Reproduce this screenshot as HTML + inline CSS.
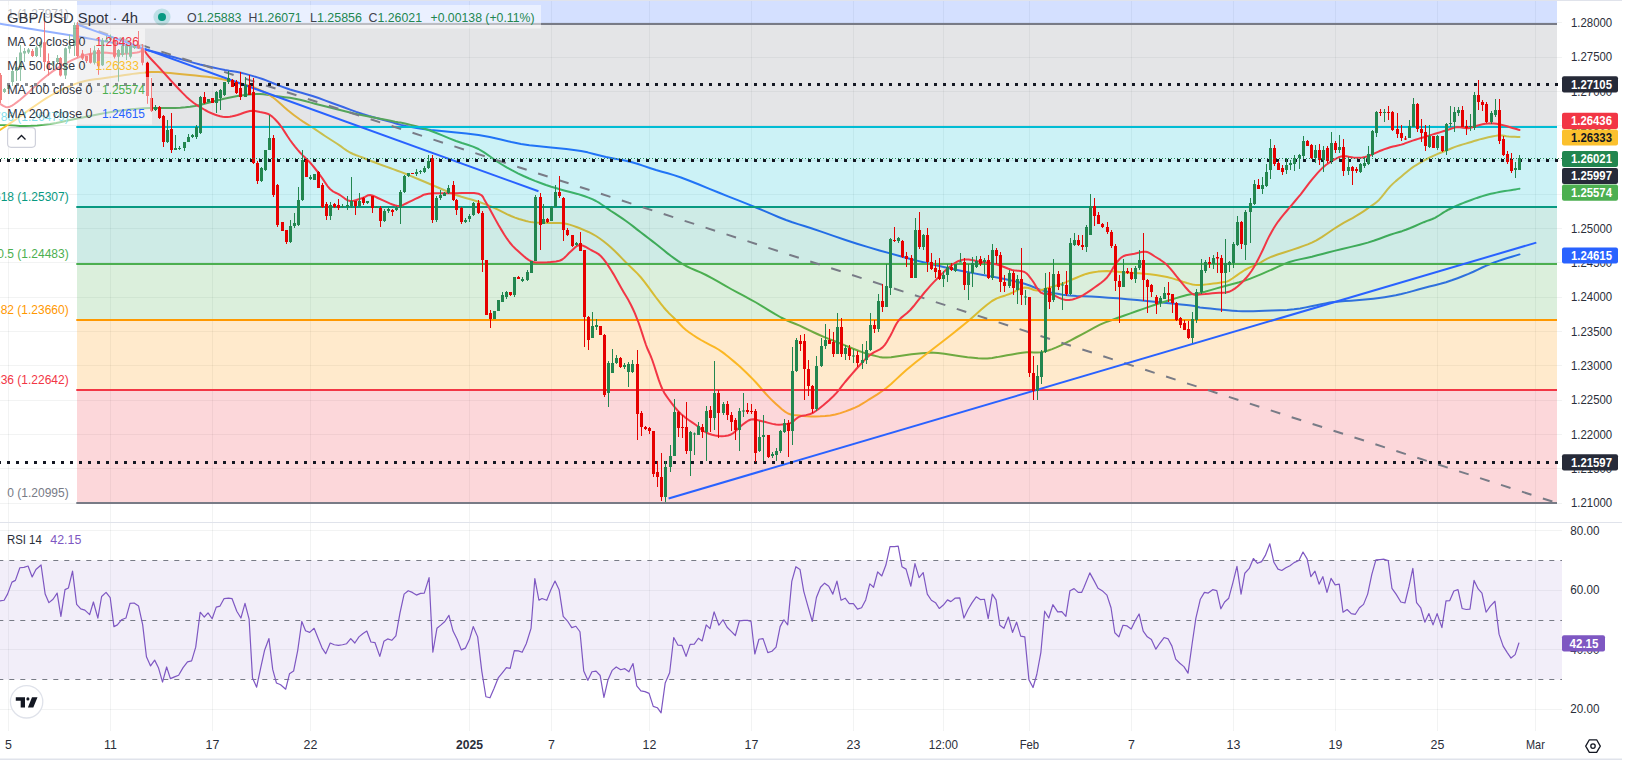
<!DOCTYPE html><html><head><meta charset="utf-8"><title>GBP/USD</title><style>html,body{margin:0;padding:0;background:#fff}body{width:1626px;height:760px;overflow:hidden;position:relative;font-family:"Liberation Sans", sans-serif}</style></head><body><svg width="1626" height="760" viewBox="0 0 1626 760" style="position:absolute;left:0;top:0;display:block" font-family='"Liberation Sans", sans-serif'>
<rect width="1626" height="760" fill="#fff"/>
<path d="M8.5 0V731M110.5 0V731M212.5 0V731M310.5 0V731M469.5 0V731M551.5 0V731M649.5 0V731M751.5 0V731M853.5 0V731M943.5 0V731M1029.5 0V731M1131.5 0V731M1233.5 0V731M1335.5 0V731M1437.5 0V731M1535.5 0V731" stroke="#2a2e39" stroke-opacity="0.06" stroke-width="1" fill="none"/>
<path d="M0 22.5H1562M0 57.5H1562M0 91.5H1562M0 125.5H1562M0 160.5H1562M0 194.5H1562M0 228.5H1562M0 262.5H1562M0 297.5H1562M0 331.5H1562M0 365.5H1562M0 400.5H1562M0 434.5H1562M0 468.5H1562M0 503.5H1562M0 530.5H1562M0 590.5H1562M0 649.5H1562M0 709.5H1562" stroke="#2a2e39" stroke-opacity="0.06" stroke-width="1" fill="none"/>
<rect x="0" y="560.5" width="1562" height="119" fill="#7e57c2" fill-opacity="0.1"/>
<path d="M-1.7 560.5H1562 M-1.7 679.5H1562 M-1.7 620.5H1562" stroke="#787b86" stroke-width="1" stroke-dasharray="5 6" fill="none"/>
<g clip-path="url(#cpm)">
<defs><clipPath id="cpm"><rect x="0" y="0" width="1562" height="522.5"/></clipPath></defs>
<path d="M0 23.7 L4.49 24.48 L10.94 25.6 L18.16 26.85 L25 28 L31.25 29.02 L37.5 30.02 L43.75 31.01 L50 32 L56.25 32.99 L62.5 33.97 L68.75 34.96 L75 36 L81.25 37.09 L87.5 38.22 L93.75 39.36 L100 40.5 L106.37 41.62 L112.81 42.75 L119.1 43.88 L125 45 L130.12 46.04 L134.69 47.03 L139.41 48.13 L145 49.5 L151.91 51.28 L159.69 53.34 L167.62 55.49 L175 57.5 L181.6 59.36 L187.81 61.16 L193.87 62.88 L200 64.5 L206.48 66.05 L213.12 67.53 L219.45 68.87 L225 70 L229.28 70.74 L232.66 71.19 L235.96 71.66 L240 72.5 L245.33 73.88 L251.41 75.59 L257.4 77.39 L262.5 79 L266.27 80.34 L269.22 81.56 L271.93 82.75 L275 84 L278.4 85.32 L281.88 86.66 L285.66 88.04 L290 89.5 L295.04 91 L300.62 92.53 L306.52 94.18 L312.5 96 L318.57 98.07 L324.84 100.34 L331.19 102.69 L337.5 105 L343.75 107.3 L350 109.62 L356.25 111.89 L362.5 114 L368.9 115.94 L375.41 117.75 L381.71 119.44 L387.5 121 L392.43 122.41 L396.75 123.69 L401.07 124.87 L406 126 L411.27 127.05 L416.69 128 L423.02 128.95 L431 130 L441.41 131.09 L453.66 132.19 L466.45 133.45 L478.5 135 L489.77 137.1 L500.84 139.59 L511.37 142.04 L521 144 L529.38 145.26 L536.78 146.09 L543.79 146.75 L551 147.5 L558.62 148.32 L566.31 149.09 L573.85 149.95 L581 151 L587.6 152.35 L593.81 153.91 L599.87 155.51 L606 157 L612.25 158.25 L618.5 159.38 L624.75 160.56 L631 162 L637.25 163.8 L643.5 165.84 L649.75 167.96 L656 170 L661.96 171.73 L667.72 173.31 L673.87 175.11 L681 177.5 L689.5 180.72 L698.97 184.53 L708.83 188.57 L718.5 192.5 L728.05 196.31 L737.72 200.16 L747.15 203.93 L756 207.5 L764.12 210.89 L771.72 214.16 L778.96 217.21 L786 220 L792.34 222.25 L798.06 224.08 L804.26 225.99 L812 228.5 L821.97 231.91 L833.47 235.89 L845.48 239.99 L857 243.75 L868.21 247.16 L879.5 250.42 L890.16 253.41 L899.5 256 L906.69 257.98 L912.31 259.48 L917.78 260.87 L924.5 262.5 L933 264.52 L942.47 266.72 L952.33 268.93 L962 271 L971.67 272.88 L981.53 274.67 L991 276.37 L999.5 278 L1006.75 279.49 L1013.09 280.86 L1018.89 282.24 L1024.5 283.75 L1029.73 285.52 L1034.5 287.45 L1039.27 289.35 L1044.5 291 L1050.28 292.39 L1056.38 293.61 L1062.78 294.65 L1069.5 295.5 L1076.47 296.05 L1083.72 296.34 L1091.36 296.59 L1099.5 297 L1108.35 297.63 L1117.78 298.36 L1127.45 299.16 L1137 300 L1146.79 300.92 L1156.84 301.92 L1166.36 302.9 L1174.5 303.75 L1181.07 304.44 L1186.5 305.02 L1190.93 305.53 L1194.5 306 L1196.5 306.41 L1197.1 306.75 L1197.78 307.09 L1200 307.5 L1204.47 308.01 L1210.29 308.59 L1216.57 309.18 L1222.4 309.7 L1227.53 310.19 L1232.45 310.67 L1237.37 311.06 L1242.5 311.3 L1247.78 311.35 L1253.14 311.24 L1258.78 311.04 L1264.9 310.8 L1271.86 310.56 L1279.45 310.27 L1287.04 309.88 L1294 309.3 L1300.18 308.44 L1305.9 307.36 L1311.27 306.23 L1316.4 305.2 L1321.09 304.28 L1325.36 303.39 L1329.62 302.59 L1334.3 301.9 L1339.56 301.4 L1345.17 301.04 L1350.91 300.71 L1356.6 300.3 L1362.19 299.81 L1367.79 299.3 L1373.4 298.71 L1379 298 L1384.6 297.17 L1390.2 296.23 L1395.8 295.18 L1401.4 294 L1407 292.64 L1412.61 291.11 L1418.21 289.53 L1423.8 288 L1429.36 286.59 L1434.89 285.24 L1440.43 283.82 L1446 282.2 L1451.71 280.3 L1457.52 278.21 L1463.19 276.03 L1468.5 273.9 L1473.35 271.77 L1477.88 269.59 L1482.19 267.5 L1486.4 265.6 L1490.42 263.96 L1494.23 262.52 L1498.02 261.16 L1502 259.8 L1506.65 258.3 L1511.72 256.74 L1516.31 255.36 L1519.5 254.4" fill="none" stroke="#2962ff" stroke-width="2" stroke-linejoin="round" stroke-linecap="round" />
<path d="M0 125 L1.11 124.98 L2.66 124.94 L4.75 124.93 L7.5 125 L11 125.25 L15.16 125.62 L19.86 125.94 L25 126 L30.72 125.78 L37.03 125.38 L43.57 124.78 L50 124 L56.25 122.96 L62.5 121.69 L68.75 120.32 L75 119 L81.25 117.73 L87.5 116.44 L93.75 115.18 L100 114 L106.25 112.88 L112.5 111.81 L118.75 110.84 L125 110 L131.25 109.31 L137.5 108.75 L143.75 108.31 L150 108 L156.37 107.91 L162.81 108 L169.1 108.09 L175 108 L180.35 107.71 L185.31 107.31 L190.12 106.76 L195 106 L200.12 104.93 L205.31 103.59 L210.35 102.21 L215 101 L219.1 100 L222.81 99.09 L226.37 98.27 L230 97.5 L233.75 96.77 L237.5 96.09 L241.25 95.5 L245 95 L248.75 94.57 L252.5 94.22 L256.25 94 L260 94 L263.63 94.27 L267.19 94.77 L270.9 95.38 L275 96 L279.65 96.57 L284.69 97.16 L289.88 97.85 L295 98.7 L300 99.79 L305 101.06 L310 102.4 L315 103.7 L320 104.95 L325 106.2 L330 107.45 L335 108.7 L340 109.97 L345 111.26 L350 112.52 L355 113.7 L360 114.77 L365 115.76 L370 116.72 L375 117.7 L380.21 118.75 L385.56 119.83 L390.63 120.84 L395 121.7 L398.11 122.24 L400.34 122.56 L402.65 122.94 L406 123.7 L410.7 124.86 L416.22 126.29 L422.25 127.99 L428.5 130 L435.14 132.49 L442.25 135.39 L449.36 138.35 L456 141 L461.98 143.05 L467.56 144.75 L472.99 146.58 L478.5 149 L484.12 152.33 L489.75 156.25 L495.38 160.3 L501 164 L506.62 167.28 L512.25 170.38 L517.88 173.28 L523.5 176 L529.18 178.53 L534.91 180.88 L540.55 183.03 L546 185 L551.29 186.76 L556.47 188.31 L561.41 189.71 L566 191 L570.1 192.09 L573.81 193 L577.37 193.91 L581 195 L584.75 196.27 L588.5 197.62 L592.25 199.17 L596 201 L599.75 203.22 L603.5 205.75 L607.25 208.41 L611 211 L614.75 213.46 L618.5 215.91 L622.25 218.39 L626 221 L629.75 223.77 L633.5 226.66 L637.25 229.59 L641 232.5 L644.75 235.36 L648.5 238.22 L652.25 241.09 L656 244 L659.75 247.01 L663.5 250.09 L667.25 253.13 L671 256 L674.63 258.66 L678.19 261.19 L681.9 263.62 L686 266 L690.53 268.2 L695.38 270.25 L700.53 272.42 L706 275 L711.9 278.16 L718.19 281.72 L724.63 285.42 L731 289 L737.25 292.38 L743.5 295.69 L749.75 299.03 L756 302.5 L762.4 306.3 L768.89 310.33 L775.19 314.19 L781 317.5 L786.09 320 L790.67 321.96 L795.1 323.73 L799.7 325.7 L804.58 327.98 L809.54 330.36 L814.53 332.74 L819.5 335 L824.43 337.09 L829.35 339.08 L834.27 341.03 L839.2 343 L844.28 345.09 L849.47 347.23 L854.47 349.26 L859 351 L862.87 352.38 L866.27 353.51 L869.49 354.45 L872.8 355.3 L876.11 356.13 L879.33 356.89 L882.74 357.42 L886.6 357.6 L891.11 357.26 L896.08 356.51 L901.24 355.64 L906.3 354.9 L911.41 354.32 L916.63 353.78 L921.62 353.32 L926 353 L929.13 352.77 L931.39 352.62 L933.95 352.66 L938 353 L944.37 353.82 L952.26 355.03 L960.4 356.26 L967.5 357.2 L973.13 357.81 L978.01 358.26 L982.58 358.47 L987.3 358.4 L992.23 357.92 L997.16 357.11 L1002.08 356.17 L1007 355.3 L1012.06 354.47 L1017.21 353.61 L1022.18 352.84 L1026.7 352.3 L1030.54 352.2 L1033.89 352.42 L1037.13 352.57 L1040.6 352.3 L1044.33 351.54 L1048.14 350.47 L1052.14 349.09 L1056.4 347.4 L1060.93 345.34 L1065.69 342.94 L1070.7 340.3 L1076 337.5 L1081.97 334.31 L1088.47 330.77 L1094.74 327.4 L1100 324.7 L1103.54 323.06 L1105.94 322.11 L1108.37 321.29 L1112 320 L1117.34 318.04 L1123.69 315.74 L1130.45 313.32 L1137 311 L1143.25 308.82 L1149.5 306.66 L1155.75 304.54 L1162 302.5 L1168.53 300.43 L1175.25 298.34 L1181.59 296.46 L1187 295 L1190.87 294.21 L1193.66 293.93 L1196.37 293.67 L1200 293 L1204.94 291.72 L1210.61 290.11 L1216.58 288.36 L1222.4 286.7 L1228 285.23 L1233.61 283.81 L1239.21 282.32 L1244.8 280.6 L1250.36 278.59 L1255.89 276.38 L1261.43 274.05 L1267 271.7 L1272.61 269.23 L1278.24 266.62 L1283.88 264.13 L1289.5 262 L1295.11 260.38 L1300.71 259.11 L1306.3 257.96 L1311.9 256.7 L1317.24 255.34 L1322.41 253.99 L1327.92 252.54 L1334.3 250.9 L1342.15 248.99 L1351.05 246.88 L1359.95 244.7 L1367.8 242.6 L1374.34 240.55 L1380.11 238.49 L1385.33 236.54 L1390.2 234.8 L1394.54 233.41 L1398.33 232.29 L1401.98 231.17 L1405.9 229.8 L1410.38 228.01 L1415.13 225.96 L1419.74 223.94 L1423.8 222.2 L1427.08 220.93 L1429.83 219.95 L1432.37 218.99 L1435 217.8 L1437.76 216.24 L1440.49 214.47 L1443.23 212.67 L1446 211 L1448.81 209.49 L1451.64 208.05 L1454.47 206.69 L1457.3 205.4 L1460.11 204.21 L1462.91 203.1 L1465.7 202.04 L1468.5 201 L1471.3 199.95 L1474.1 198.93 L1476.9 197.93 L1479.7 197 L1482.5 196.12 L1485.31 195.29 L1488.11 194.51 L1490.9 193.8 L1493.68 193.17 L1496.44 192.61 L1499.21 192.1 L1502 191.6 L1504.93 191.11 L1507.96 190.63 L1510.83 190.19 L1513.3 189.8 L1515.35 189.45 L1517.11 189.14 L1518.51 188.88 L1519.5 188.7" fill="none" stroke="#4caf50" stroke-width="2" stroke-linejoin="round" stroke-linecap="round" />
<path d="M0 130 L2.64 128.26 L6.41 125.78 L10.72 122.91 L15 120 L19.2 117.03 L23.59 113.84 L28.07 110.61 L32.5 107.5 L36.88 104.5 L41.25 101.53 L45.62 98.68 L50 96 L54.38 93.5 L58.75 91.16 L63.12 88.98 L67.5 87 L71.82 85.22 L76.09 83.62 L80.45 82.22 L85 81 L89.82 80.04 L94.84 79.31 L99.94 78.68 L105 78 L110.12 77.23 L115.31 76.44 L120.35 75.68 L125 75 L129.1 74.41 L132.81 73.88 L136.37 73.41 L140 73 L143.75 72.63 L147.5 72.31 L151.25 72.09 L155 72 L158.63 72.09 L162.19 72.31 L165.9 72.63 L170 73 L174.59 73.42 L179.53 73.91 L184.71 74.44 L190 75 L195.57 75.57 L201.41 76.16 L207.17 76.79 L212.5 77.5 L217.17 78.27 L221.41 79.09 L225.57 80 L230 81 L234.94 82.11 L240.16 83.31 L245.29 84.61 L250 86 L254.22 87.52 L258.12 89.16 L261.72 90.84 L265 92.5 L267.79 94.02 L270.16 95.47 L272.44 97.06 L275 99 L277.95 101.47 L281.09 104.31 L284.32 107.25 L287.5 110 L290.62 112.52 L293.75 114.94 L296.88 117.27 L300 119.5 L303.12 121.59 L306.25 123.56 L309.38 125.5 L312.5 127.5 L315.62 129.6 L318.75 131.75 L321.88 133.9 L325 136 L328.12 138.02 L331.25 140 L334.38 141.98 L337.5 144 L340.62 146.17 L343.75 148.44 L346.88 150.61 L350 152.5 L353.12 154 L356.25 155.22 L359.38 156.33 L362.5 157.5 L365.57 158.74 L368.59 159.97 L371.7 161.21 L375 162.5 L378.55 163.83 L382.28 165.19 L386.12 166.58 L390 168 L393.72 169.36 L397.38 170.69 L401.34 172.17 L406 174 L411.62 176.31 L417.94 178.97 L424.54 181.77 L431 184.5 L437.37 187.23 L443.81 190.03 L450.1 192.69 L456 195 L461.41 196.8 L466.47 198.25 L471.29 199.57 L476 201 L480.55 202.54 L484.91 204.09 L489.18 205.72 L493.5 207.5 L497.93 209.57 L502.41 211.84 L506.8 214.07 L511 216 L515.04 217.58 L518.97 218.94 L522.66 220.08 L526 221 L528.68 221.64 L530.84 222.03 L533.09 222.28 L536 222.5 L539.96 222.69 L544.59 222.8 L549.3 222.88 L553.5 223 L556.92 223.07 L559.91 223.09 L562.82 223.26 L566 223.75 L569.57 224.65 L573.34 225.84 L577.19 227.24 L581 228.75 L584.75 230.3 L588.5 231.97 L592.25 233.84 L596 236 L599.75 238.49 L603.5 241.27 L607.25 244.28 L611 247.5 L614.75 251 L618.5 254.78 L622.25 258.67 L626 262.5 L629.75 266.13 L633.5 269.69 L637.25 273.4 L641 277.5 L644.87 282.32 L648.81 287.66 L652.6 292.91 L656 297.5 L658.85 301.21 L661.31 304.38 L663.62 307.23 L666 310 L668.5 312.68 L671 315.16 L673.5 317.56 L676 320 L678.38 322.5 L680.69 325 L683.15 327.5 L686 330 L689.34 332.51 L693.03 335.03 L696.96 337.54 L701 340 L705.32 342.41 L709.91 344.78 L714.42 347.14 L718.5 349.5 L721.98 351.84 L725.06 354.16 L727.99 356.52 L731 359 L734.12 361.61 L737.25 364.31 L740.38 367.11 L743.5 370 L746.68 373.04 L749.91 376.22 L753.05 379.41 L756 382.5 L758.68 385.48 L761.16 388.41 L763.56 391.25 L766 394 L768.45 396.62 L770.88 399.12 L773.36 401.57 L776 404 L778.87 406.59 L781.89 409.25 L784.97 411.66 L788 413.5 L790.85 414.55 L793.61 415.03 L796.49 415.25 L799.7 415.5 L803.27 415.89 L807.09 416.25 L811.17 416.48 L815.5 416.5 L820.17 416.33 L825.16 415.99 L830.26 415.41 L835.3 414.5 L840.37 413.14 L845.52 411.42 L850.49 409.51 L855 407.6 L858.77 405.79 L862.02 403.96 L865.21 401.98 L868.8 399.7 L872.92 397.14 L877.33 394.37 L881.92 391.28 L886.6 387.8 L891.39 383.72 L896.33 379.14 L901.33 374.44 L906.3 370 L911.18 365.95 L916.02 362.09 L920.93 358.25 L926 354.3 L931.3 350.19 L936.77 346.01 L942.31 341.78 L947.8 337.5 L953.21 333.21 L958.61 328.89 L964.02 324.5 L969.5 320 L975.19 315.07 L981.01 309.84 L986.71 304.94 L992 301 L996.79 298.39 L1001.22 296.72 L1005.42 295.43 L1009.5 294 L1013.48 292.12 L1017.31 290.12 L1020.98 288.45 L1024.5 287.5 L1027.8 287.72 L1030.91 288.78 L1033.93 289.95 L1037 290.5 L1040.12 290.19 L1043.25 289.42 L1046.38 288.44 L1049.5 287.5 L1052.57 286.67 L1055.59 285.83 L1058.7 284.88 L1062 283.75 L1065.63 282.32 L1069.5 280.67 L1073.37 279 L1077 277.5 L1080.18 276.19 L1083.09 274.98 L1086.08 273.91 L1089.5 273 L1093.52 272.24 L1097.94 271.62 L1102.51 271.2 L1107 271 L1111.32 271.13 L1115.59 271.55 L1119.95 272.06 L1124.5 272.5 L1129.27 272.78 L1134.19 273.02 L1139.27 273.3 L1144.5 273.75 L1150.01 274.36 L1155.75 275.08 L1161.49 275.95 L1167 277 L1172.41 278.4 L1177.78 280.08 L1182.76 281.72 L1187 283 L1190.13 283.85 L1192.44 284.44 L1194.52 284.8 L1197 285 L1200.05 284.98 L1203.35 284.74 L1206.72 284.38 L1210 284 L1213.28 283.6 L1216.6 283.14 L1219.72 282.65 L1222.4 282.2 L1224.24 282 L1225.49 281.95 L1226.84 281.63 L1229 280.6 L1232.36 278.48 L1236.47 275.59 L1240.8 272.55 L1244.8 270 L1248.32 268.16 L1251.65 266.68 L1254.91 265.31 L1258.2 263.8 L1261.23 262.13 L1264.06 260.43 L1267.3 258.63 L1271.6 256.7 L1277.59 254.55 L1284.77 252.22 L1292.09 249.88 L1298.5 247.7 L1303.5 245.9 L1307.74 244.34 L1311.83 242.61 L1316.4 240.3 L1321.77 237.07 L1327.55 233.22 L1333.33 229.28 L1338.7 225.8 L1343.59 222.94 L1348.21 220.4 L1352.54 218.04 L1356.6 215.7 L1360.37 213.34 L1363.86 211.05 L1367.06 208.86 L1370 206.8 L1372.51 205.09 L1374.64 203.64 L1376.7 202.04 L1379 199.9 L1381.65 196.91 L1384.46 193.34 L1387.35 189.68 L1390.2 186.4 L1393 183.63 L1395.8 181.12 L1398.6 178.75 L1401.4 176.4 L1404.2 174.03 L1407 171.69 L1409.8 169.46 L1412.6 167.4 L1415.4 165.54 L1418.2 163.84 L1421 162.24 L1423.8 160.7 L1426.6 159.2 L1429.41 157.76 L1432.21 156.4 L1435 155.1 L1437.76 153.9 L1440.49 152.78 L1443.23 151.7 L1446 150.6 L1448.81 149.45 L1451.64 148.27 L1454.47 147.14 L1457.3 146.1 L1460.11 145.19 L1462.91 144.38 L1465.7 143.6 L1468.5 142.8 L1471.3 141.94 L1474.1 141.06 L1476.9 140.2 L1479.7 139.4 L1482.55 138.67 L1485.44 137.98 L1488.26 137.35 L1490.9 136.8 L1493.28 136.31 L1495.49 135.87 L1497.62 135.55 L1499.8 135.4 L1502 135.51 L1504.19 135.83 L1506.43 136.21 L1508.8 136.5 L1511.61 136.68 L1514.71 136.82 L1517.54 136.92 L1519.5 137" fill="none" stroke="#fbc02d" stroke-width="2" stroke-linejoin="round" stroke-linecap="round" />
<rect x="77" y="390" width="1480" height="113" fill="#f23645" fill-opacity="0.2"/>
<rect x="77" y="320" width="1480" height="70" fill="#ff9800" fill-opacity="0.2"/>
<rect x="77" y="264" width="1480" height="56" fill="#4caf50" fill-opacity="0.2"/>
<rect x="77" y="207" width="1480" height="57" fill="#089981" fill-opacity="0.2"/>
<rect x="77" y="127" width="1480" height="80" fill="#00bcd4" fill-opacity="0.2"/>
<rect x="77" y="24" width="1480" height="103" fill="#787b86" fill-opacity="0.2"/>
<rect x="77" y="-10" width="1480" height="34" fill="#2962ff" fill-opacity="0.2"/>
<path d="M76.3 503H1557" stroke="#787b86" stroke-width="2" fill="none"/>
<path d="M76.3 390H1557" stroke="#f23645" stroke-width="2" fill="none"/>
<path d="M76.3 320H1557" stroke="#ff9800" stroke-width="2" fill="none"/>
<path d="M76.3 264H1557" stroke="#4caf50" stroke-width="2" fill="none"/>
<path d="M76.3 207H1557" stroke="#089981" stroke-width="2" fill="none"/>
<path d="M76.3 127H1557" stroke="#00bcd4" stroke-width="2" fill="none"/>
<path d="M76.3 24H1557" stroke="#787b86" stroke-width="2" fill="none"/>
<path d="M77.6 24.5L1557 503" stroke="#787b86" stroke-width="2" stroke-dasharray="10 12" fill="none"/>
<path d="M77.5 24.6L538.5 191.3" stroke="#2962ff" stroke-width="2" fill="none"/>
<path d="M668.6 498.5L1536.3 242.6" stroke="#2962ff" stroke-width="2" fill="none"/>
<path d="M0 103.8 L1.35 104.63 L3.27 105.88 L5.48 106.95 L7.7 107.3 L9.85 106.73 L12.08 105.56 L14.45 103.96 L17 102.1 L19.77 99.96 L22.72 97.48 L25.81 94.76 L29 91.9 L32.33 88.8 L35.79 85.45 L39.31 82.1 L42.8 79 L46.19 76.22 L49.54 73.63 L52.95 71.17 L56.5 68.8 L60.29 66.46 L64.26 64.19 L68.22 62.07 L72 60.2 L75.45 58.6 L78.7 57.22 L82 56.03 L85.6 55 L89.62 54.09 L93.92 53.33 L98.33 52.78 L102.7 52.5 L107.02 52.66 L111.36 53.19 L115.69 53.74 L120 54 L124.51 53.84 L129.16 53.45 L133.48 52.96 L137 52.5 L139.43 51.91 L141.08 51.18 L142.36 50.69 L143.7 50.8 L144.99 51.62 L146.08 52.96 L147.31 54.72 L149 56.8 L151.26 59.21 L153.89 61.99 L156.84 65.1 L160 68.5 L163.47 72.32 L167.25 76.54 L171.16 80.87 L175 85 L178.75 88.97 L182.5 92.91 L186.25 96.64 L190 100 L193.81 102.96 L197.66 105.59 L201.43 107.93 L205 110 L208.36 111.79 L211.56 113.28 L214.61 114.51 L217.5 115.5 L220.18 116.24 L222.66 116.72 L225.06 116.96 L227.5 117 L229.94 116.79 L232.34 116.34 L234.82 115.72 L237.5 115 L240.51 114.02 L243.75 112.81 L246.99 111.7 L250 111 L252.68 110.85 L255.16 111.06 L257.56 111.49 L260 112 L262.5 112.45 L265 112.94 L267.5 113.71 L270 115 L272.5 116.89 L275 119.25 L277.5 121.98 L280 125 L282.5 128.46 L285 132.34 L287.5 136.31 L290 140 L292.5 143.36 L295 146.56 L297.5 149.61 L300 152.5 L302.5 155.12 L305 157.5 L307.5 159.88 L310 162.5 L312.5 165.41 L315 168.5 L317.5 171.71 L320 175 L322.5 178.58 L325 182.41 L327.5 186.03 L330 189 L332.5 191.06 L335 192.5 L337.5 193.69 L340 195 L342.44 196.71 L344.84 198.56 L347.32 200.13 L350 201 L353.07 200.88 L356.41 200.06 L359.67 198.96 L362.5 198 L364.67 197.09 L366.41 196.06 L368.07 195.26 L370 195 L372.27 195.47 L374.69 196.47 L377.27 197.73 L380 199 L383.07 200.36 L386.41 201.91 L389.67 203.37 L392.5 204.5 L394.76 205.25 L396.66 205.75 L398.35 206 L400 206 L401.45 205.74 L402.69 205.22 L404.08 204.46 L406 203.5 L408.73 202.19 L412 200.58 L415.4 198.92 L418.5 197.5 L420.77 196.33 L422.56 195.28 L424.83 194.41 L428.5 193.75 L434.26 193.37 L441.47 193.23 L449.07 193.23 L456 193.25 L462.33 193.11 L468.5 192.92 L474.05 193.02 L478.5 193.75 L481.31 195.04 L482.88 196.75 L484.12 199.15 L486 202.5 L488.8 207.28 L492.02 213.2 L495.35 219.4 L498.5 225 L501.4 229.87 L504.2 234.45 L506.97 238.68 L509.75 242.5 L512.59 245.84 L515.45 248.75 L518.28 251.35 L521 253.75 L523.59 256.04 L526.08 258.12 L528.53 259.9 L531 261.25 L533.44 262.05 L535.84 262.39 L538.32 262.47 L541 262.5 L544.04 262.49 L547.33 262.34 L550.58 262.09 L553.5 261.75 L555.95 261.43 L558.11 261.09 L560.15 260.52 L562.25 259.5 L564.44 257.81 L566.62 255.62 L568.81 253.31 L571 251.25 L573.13 249.28 L575.22 247.3 L577.39 245.72 L579.75 245 L582.42 245.43 L585.3 246.72 L588.22 248.4 L591 250 L593.59 251.3 L596.08 252.58 L598.53 254.13 L601 256.25 L603.5 259.07 L606 262.42 L608.5 266.12 L611 270 L613.5 274.11 L616 278.52 L618.5 283.04 L621 287.5 L623.56 291.88 L626.16 296.25 L628.68 300.62 L631 305 L633.05 309.26 L634.91 313.44 L636.68 317.77 L638.5 322.5 L640.4 327.95 L642.33 333.91 L644.21 339.79 L646 345 L647.59 349.02 L649.05 352.28 L650.54 355.65 L652.25 360 L654.29 366.03 L656.55 373.12 L658.84 380.16 L661 386 L662.85 390.12 L664.52 393.19 L666.3 395.91 L668.5 399 L671.21 402.7 L674.28 406.62 L677.58 410.48 L681 414 L684.69 417.11 L688.66 419.97 L692.54 422.59 L696 425 L698.79 427.21 L701.16 429.22 L703.44 430.99 L706 432.5 L708.95 433.77 L712.09 434.81 L715.32 435.57 L718.5 436 L721.68 436.14 L724.91 436 L728.05 435.48 L731 434.5 L733.68 432.82 L736.16 430.56 L738.56 428.15 L741 426 L743.5 424.05 L746 422.12 L748.5 420.52 L751 419.5 L753.38 419.27 L755.69 419.62 L758.15 420.3 L761 421 L764.52 421.83 L768.5 422.88 L772.48 423.86 L776 424.5 L778.95 424.68 L781.57 424.57 L783.91 424.3 L786 424 L787.7 423.78 L789.03 423.54 L790.3 423.13 L791.8 422.4 L793.49 421.18 L795.24 419.6 L797.25 417.94 L799.7 416.5 L802.62 415.65 L805.91 415.14 L809.58 414.31 L813.6 412.5 L818.3 409.26 L823.58 405.04 L828.79 400.5 L833.3 396.3 L836.76 392.63 L839.56 389.14 L842.19 385.65 L845.1 382 L848.48 378.02 L852.05 373.84 L855.62 369.74 L859 366 L862.1 362.66 L865.03 359.58 L867.9 356.79 L870.8 354.3 L873.84 352.35 L876.94 350.86 L879.92 349.36 L882.6 347.4 L884.85 344.84 L886.79 341.94 L888.62 338.8 L890.5 335.5 L892.38 331.91 L894.2 328.02 L896.14 324.18 L898.4 320.7 L901.04 317.9 L903.96 315.52 L907.07 313.06 L910.3 310 L913.73 306.02 L917.36 301.44 L921.02 296.77 L924.5 292.5 L927.69 288.8 L930.7 285.39 L933.74 282.1 L937 278.75 L940.63 275.12 L944.5 271.36 L948.37 267.86 L952 265 L955.18 262.86 L958.09 261.23 L961.08 260.12 L964.5 259.5 L968.58 259.56 L973.09 260.25 L977.68 261.19 L982 262 L985.93 262.55 L989.66 263.06 L993.31 263.66 L997 264.5 L1000.81 265.75 L1004.66 267.28 L1008.43 268.8 L1012 270 L1015.42 270.61 L1018.72 270.84 L1021.79 271.16 L1024.5 272 L1026.7 273.47 L1028.48 275.34 L1030.15 277.54 L1032 280 L1034.04 283.05 L1036.14 286.62 L1038.36 290.01 L1040.75 292.5 L1043.33 293.66 L1046.06 293.94 L1048.95 294 L1052 294.5 L1055.26 295.83 L1058.72 297.56 L1062.25 299.14 L1065.75 300 L1069.16 300 L1072.55 299.44 L1075.97 298.41 L1079.5 297 L1083.22 295.09 L1087.08 292.69 L1090.9 290.06 L1094.5 287.5 L1097.89 285.12 L1101.14 282.77 L1104.2 280.28 L1107 277.5 L1109.48 274.18 L1111.69 270.47 L1113.74 266.84 L1115.75 263.75 L1117.62 261.32 L1119.34 259.3 L1121.14 257.63 L1123.25 256.25 L1125.8 255.26 L1128.64 254.66 L1131.6 254.22 L1134.5 253.75 L1137.37 253.06 L1140.28 252.31 L1143.11 251.78 L1145.75 251.75 L1148.03 252.32 L1150.05 253.33 L1152.11 254.67 L1154.5 256.25 L1157.36 257.99 L1160.52 259.97 L1163.79 262.27 L1167 265 L1170.12 268.34 L1173.25 272.19 L1176.38 276.19 L1179.5 280 L1182.68 283.84 L1185.91 287.78 L1189.05 291.27 L1192 293.75 L1194.59 294.85 L1196.92 294.94 L1199.3 294.56 L1202 294.25 L1205.17 294.06 L1208.64 293.73 L1212.22 293.35 L1215.7 293 L1219.1 292.85 L1222.5 292.81 L1225.83 292.56 L1229 291.8 L1231.97 290.44 L1234.78 288.64 L1237.53 286.47 L1240.3 284 L1243.16 281.19 L1246.05 278.02 L1248.86 274.59 L1251.5 271 L1253.88 267.26 L1256.09 263.32 L1258.22 259.2 L1260.4 254.9 L1262.65 250.25 L1264.9 245.31 L1267.15 240.41 L1269.4 235.9 L1271.58 231.92 L1273.71 228.27 L1275.92 224.78 L1278.3 221.3 L1280.94 217.8 L1283.76 214.37 L1286.65 210.98 L1289.5 207.6 L1292.3 204.28 L1295.1 201.01 L1297.9 197.71 L1300.7 194.3 L1303.5 190.69 L1306.31 186.94 L1309.11 183.22 L1311.9 179.7 L1314.68 176.36 L1317.44 173.12 L1320.21 170.1 L1323 167.4 L1325.87 165.03 L1328.79 162.94 L1331.64 161.14 L1334.3 159.6 L1336.59 158.32 L1338.62 157.31 L1340.71 156.6 L1343.2 156.2 L1346.29 156.32 L1349.76 156.89 L1353.3 157.51 L1356.6 157.8 L1359.55 157.7 L1362.34 157.41 L1365.05 156.91 L1367.8 156.2 L1370.6 155.19 L1373.4 153.9 L1376.2 152.54 L1379 151.3 L1381.8 150.21 L1384.6 149.16 L1387.4 148.19 L1390.2 147.3 L1393 146.56 L1395.8 145.95 L1398.6 145.34 L1401.4 144.6 L1404.2 143.68 L1407 142.64 L1409.8 141.59 L1412.6 140.6 L1415.4 139.71 L1418.2 138.86 L1421 138.04 L1423.8 137.2 L1426.6 136.35 L1429.41 135.49 L1432.21 134.64 L1435 133.8 L1437.76 132.97 L1440.49 132.15 L1443.23 131.33 L1446 130.5 L1448.81 129.55 L1451.64 128.52 L1454.47 127.64 L1457.3 127.1 L1460.11 127.16 L1462.91 127.64 L1465.7 128.13 L1468.5 128.2 L1471.3 127.64 L1474.1 126.72 L1476.9 125.71 L1479.7 124.9 L1482.5 124.31 L1485.31 123.79 L1488.11 123.44 L1490.9 123.3 L1493.68 123.44 L1496.44 123.79 L1499.21 124.31 L1502 124.9 L1504.93 125.64 L1507.96 126.54 L1510.83 127.44 L1513.3 128.2 L1515.35 128.8 L1517.11 129.31 L1518.51 129.71 L1519.5 130" fill="none" stroke="#f23645" stroke-width="2" stroke-linejoin="round" stroke-linecap="round" />
<path d="M-2 84.5H1562" stroke="#131722" stroke-width="3" stroke-dasharray="3 6" fill="none"/>
<path d="M-2 160.5H1562" stroke="#131722" stroke-width="3" stroke-dasharray="3 6" fill="none"/>
<path d="M-2 462.5H1562" stroke="#131722" stroke-width="3" stroke-dasharray="3 6" fill="none"/>
<g transform="translate(0.5,0)" stroke-width="1" fill="none"><path stroke="#22864f" d="M4 88 V93M8 85 V89M12 69 V86M16 57 V81M20 45 V81M24 48 V62M28 48 V54M36 45.7 V57M40 41.4 V57M52 61 V66M57 55 V63M65 47.4 V79M69 34.5 V53.4M74 22.5 V56M94 45.7 V64.5M102 38 V66M106 36 V42M110 34.5 V41.4M118 49 V81.6M122 40.5 V56.8M126 44 V60M130 44 V58.5M134 44.8 V49M155 105 V111M167 120 V143M175 135 V150M179 146 V150M184 142 V151M188 134 V142M192 134 V138M196 125 V139M200 96 V134M208 99 V102M216 91 V113M220 89 V110M224 82 V96M228 71 V84M245 77 V97M261 167 V182M265 150 V171M269 115 V150M290 220 V243M294 213 V228M298 187 V226M302 150 V201M310 175 V180M314 174 V180M330 202 V220M342 204 V208M347 196 V210M351 177 V208M359 193 V207M367 201 V204M376 206 V208M384 209 V222M388 208 V213M396 206 V211M400 190 V224M404 175 V193M408 173 V177M416 169 V176M420 170 V174M424 166 V173M428 155 V169M436 196 V222M440 190 V200M444 192 V196M448 185 V194M465 218 V223M469 214 V222M473 202 V216M494 311 V319M498 300 V311M502 292 V302M506 291 V299M514 277 V297M522 277 V282M527 270 V281M531 261 V273M535 195 V261M543 204 V224M551 206 V221M555 185 V207M576 242 V246M592 312 V338M596 319 V330M608 361 V407M612 349 V373M616 355 V364M624 363 V369M628 362 V387M632 360 V373M665 461 V502M670 445 V472M674 399 V456M690 431 V476M694 432.5 V455M698 422 V435M706 406 V461M714 361 V430M723 402 V415M739 408 V451M743 393 V417M759 421 V452M763 415 V461M772 452 V458M776 448 V461M780 430 V453M784 419 V433M792 347 V445M796 338 V372M816 356 V411M821 338 V367M825 324 V349M837 313 V354M845 345 V360M853 349 V363M862 344 V369M866 341 V364M870 313 V351M878 294 V332M886 264 V307M890 238 V295M898 237 V243M915 218 V278M923 234 V250M943 271 V287M947 264 V282M955 264 V272M960 253 V262M968 264 V300M972 257 V287M976 256 V268M984 258 V274M992 244 V280M1009 270 V288M1017 275 V304M1025 290 V305M1037 365 V400M1041 350 V384M1045 273 V353M1053 259 V302M1062 282 V310M1070 238 V295M1074 233 V246M1086 225 V252M1090 194 V235M1123 259 V287M1135 266 V283M1139 250 V270M1160 296 V307M1164 287 V299M1192 312 V343M1196 289 V323M1201 259 V294M1205 260 V273M1213 255 V269M1225 239 V294M1229 261 V272M1233 242 V268M1237 216 V246M1245 210 V260M1250 198 V243M1254 180 V205M1262 177 V194M1266 164 V187M1270 139 V179M1286 158 V174M1290 160 V170M1294 155 V171M1299 154 V169M1303 136 V158M1315 145 V163M1323 146 V172M1331 132 V164M1339 135 V153M1348 157 V175M1360 163 V173M1364 157 V168M1368 146 V165M1372 130 V157M1376 111 V137M1384 109 V122M1409 120 V138M1413 98 V127M1429 125 V148M1437 135 V150M1446 123 V155M1450 106 V127M1454 107 V132M1458 107 V116M1470 114 V131M1474 92 V130M1491 111 V124M1495 99 V117M1515 162 V178M1519 155 V170"/><path stroke="#e60000" d="M0 73 V103M32 49 V57M44 18 V71M48 53.4 V75.6M60 57 V76.5M77 22 V57.6M82 50 V60M86 56 V63M90 48 V63.6M98 48 V74.8M114 38 V58.5M138 31 V49M142 44 V65.3M147 61.8 V103.8M151 78 V112M159 106 V119M163 115 V147M171 113 V153M204 92 V104M212 98 V103M232 79 V87M236 80 V94M240 72 V100M249 75 V95M253 78 V164M257 161 V184M273 135 V197M277 184 V227M282 222 V231M286 230 V244M306 159 V177M318 171 V188M322 183 V208M326 202 V220M334 203 V208M338 199 V210M355 201 V215M363 197 V205M372 196 V213M380 206 V227M392 209 V216M412 173 V174M432 155 V223M453 181 V201M456 199 V215M461 207 V224M478 200 V214M482 211 V272M486 260 V315M490 310 V328M510 292 V296M518 276 V279M540 193 V250M547 218 V223M559 176 V198M563 197 V241M567 228 V236M572 235 V247M580 232 V251M584 250 V347M588 316 V350M600 326 V335M604 334 V397M620 357 V368M637 350 V440M641 411 V436M645 426 V430M649 427 V434M653 431 V477M657 461 V487M661 453 V501M678 411 V437M682 415 V438M686 402 V454M702 424 V438M710 406 V432M718 390 V438M727 401 V420M731 412 V431M735 418 V440M747 403 V414M751 404 V414M755 409 V462M768 435 V458M788 420 V457M800 335 V351M804 334 V400M808 360 V396M812 385 V413M829 329 V344M833 332 V357M841 318 V357M849 345 V360M857 351 V367M874 320 V333M882 284 V312M894 227 V242M902 240 V258M906 252 V267M911 255 V278M919 212 V249M927 228 V272M931 253 V270M935 260 V278M939 258 V280M951 263 V271M964 258 V290M980 256 V266M988 255 V279M996 248 V264M1000 252 V292M1004 275 V292M1013 271 V295M1021 248 V305M1029 297 V377M1033 356 V400M1049 272 V309M1058 271 V290M1066 271 V296M1078 235 V246M1082 235 V250M1094 198 V226M1098 212 V224M1102 223 V228M1107 222 V234M1111 230 V248M1115 244 V291M1119 275 V323M1127 268 V274M1131 268 V280M1143 233 V301M1147 279 V313M1151 284 V297M1156 295 V314M1168 282 V302M1172 294 V313M1176 302 V321M1180 317 V328M1184 320 V330M1188 321 V339M1209 257 V268M1217 252 V273M1221 255 V312M1241 221 V249M1258 179 V189M1274 145 V166M1278 161 V170M1282 165 V175M1307 140 V146M1311 144 V159M1319 144 V165M1327 146 V163M1335 141 V153M1343 139 V176M1352 166 V185M1356 167 V173M1380 109 V116M1388 106 V120M1392 111 V131M1397 113 V138M1401 125 V141M1405 136 V140M1417 103 V132M1421 119 V142M1425 125 V151M1433 136 V148M1442 136 V152M1462 106 V127M1466 120 V135M1478 80 V110M1482 100 V111M1486 102 V123M1499 99 V144M1503 136 V156M1507 151 V164M1511 153 V173"/></g><path fill="#22864f" d="M3 89h3V92h-3zM7 86h3V89h-3zM11 71h3V82h-3zM15 67h3V71h-3zM19 52.5h3V69.6h-3zM23 51h3V53.4h-3zM27 49.4h3V52.5h-3zM35 47.4h3V56h-3zM39 42.2h3V47.4h-3zM51 63h3V64h-3zM56 58h3V62h-3zM64 48.2h3V75.6h-3zM68 45.7h3V48.7h-3zM73 25h3V45.7h-3zM93 50.5h3V62.8h-3zM101 40.5h3V65.3h-3zM105 39.7h3V41.4h-3zM109 37h3V40h-3zM117 50h3V56.8h-3zM121 45.7h3V55h-3zM125 45.7h3V53.4h-3zM129 45.3h3V56.8h-3zM133 45.7h3V48h-3zM154 107h3V110h-3zM166 130h3V142h-3zM174 148h3V150h-3zM178 148h3V149h-3zM183 142h3V148h-3zM187 137h3V142h-3zM191 135h3V137h-3zM195 127h3V137h-3zM199 97h3V133h-3zM207 99h3V102h-3zM215 92h3V103h-3zM219 90h3V98h-3zM223 82h3V95h-3zM227 78h3V82h-3zM244 85h3V97h-3zM260 168h3V181h-3zM264 150h3V170h-3zM268 138h3V150h-3zM289 226h3V242h-3zM293 223h3V226h-3zM297 200h3V225h-3zM301 160h3V200h-3zM309 177h3V179h-3zM313 174h3V180h-3zM329 205h3V216h-3zM341 206h3V207h-3zM346 205h3V207h-3zM350 201h3V206h-3zM358 201h3V206h-3zM366 201h3V203h-3zM375 207h3V208h-3zM383 211h3V221h-3zM387 209h3V211h-3zM395 208h3V210h-3zM399 192h3V208h-3zM403 176h3V192h-3zM407 173h3V176h-3zM415 172h3V174h-3zM419 171h3V172h-3zM423 168h3V172h-3zM427 161h3V168h-3zM435 198h3V220h-3zM439 195h3V198h-3zM443 193h3V196h-3zM447 188h3V193h-3zM464 220h3V222h-3zM468 216h3V219h-3zM472 203h3V215h-3zM493 311h3V319h-3zM497 300h3V311h-3zM501 295h3V302h-3zM505 292h3V297h-3zM513 277h3V295h-3zM521 279h3V281h-3zM526 272h3V280h-3zM530 261h3V273h-3zM534 197h3V261h-3zM542 219h3V224h-3zM550 207h3V221h-3zM554 192h3V207h-3zM575 243h3V245h-3zM591 326h3V338h-3zM595 325h3V327h-3zM607 363h3V393h-3zM611 363h3V373h-3zM615 358h3V363h-3zM623 365h3V367h-3zM627 364h3V372h-3zM631 364h3V372h-3zM664 467h3V497h-3zM669 456h3V467h-3zM673 412h3V456h-3zM689 432h3V451h-3zM693 433.5h3V434.5h-3zM697 426h3V435h-3zM705 411h3V432h-3zM713 393h3V418h-3zM722 404h3V413h-3zM738 411h3V430h-3zM742 410.5h3V411.5h-3zM758 437h3V451h-3zM762 435h3V437h-3zM771 454h3V456h-3zM775 451h3V455h-3zM779 431h3V451h-3zM783 423h3V432h-3zM791 371h3V431h-3zM795 340h3V371h-3zM815 366h3V409h-3zM820 346h3V366h-3zM824 340h3V346h-3zM836 327h3V354h-3zM844 348h3V354h-3zM852 355.5h3V356.5h-3zM861 360h3V363h-3zM865 350h3V360h-3zM869 325h3V350h-3zM877 301h3V329h-3zM885 286h3V307h-3zM889 239h3V288h-3zM897 238h3V241h-3zM914 230h3V278h-3zM922 235h3V247h-3zM942 275h3V279h-3zM946 267h3V275h-3zM954 264h3V271h-3zM959 261.5h3V262.5h-3zM967 273h3V285h-3zM971 263h3V273h-3zM975 261h3V267h-3zM983 260h3V262h-3zM991 250h3V278h-3zM1008 273h3V286h-3zM1016 279h3V290h-3zM1024 296.5h3V297.5h-3zM1036 376h3V391h-3zM1040 352h3V377h-3zM1044 288h3V352h-3zM1052 274h3V300h-3zM1061 284.5h3V285.5h-3zM1069 243h3V294h-3zM1073 240h3V245h-3zM1085 227h3V247h-3zM1089 206h3V235h-3zM1122 271h3V287h-3zM1134 268h3V279h-3zM1138 260h3V268h-3zM1159 298h3V303h-3zM1163 293h3V299h-3zM1191 319h3V338h-3zM1195 292h3V320h-3zM1200 270h3V292h-3zM1204 262h3V271h-3zM1212 258h3V264h-3zM1224 263h3V273h-3zM1228 262h3V265h-3zM1232 244h3V263h-3zM1236 222h3V245h-3zM1244 212h3V245h-3zM1249 203h3V212h-3zM1253 184h3V204h-3zM1261 185h3V189h-3zM1265 172h3V186h-3zM1269 148h3V170h-3zM1285 165h3V170h-3zM1289 163h3V165h-3zM1293 158h3V164h-3zM1298 155h3V158h-3zM1302 141h3V156h-3zM1314 150h3V158h-3zM1322 150h3V160h-3zM1330 143h3V161h-3zM1338 147h3V150h-3zM1347 167h3V171h-3zM1359 164h3V172h-3zM1363 163h3V166h-3zM1367 154h3V164h-3zM1371 131h3V155h-3zM1375 112h3V133h-3zM1383 112h3V113h-3zM1408 126h3V138h-3zM1412 104h3V127h-3zM1428 136h3V147h-3zM1436 136h3V148h-3zM1445 124h3V151h-3zM1449 123h3V124h-3zM1453 112h3V122h-3zM1457 110h3V113h-3zM1469 126h3V127h-3zM1473 95h3V128h-3zM1490 113h3V122h-3zM1494 110h3V115h-3zM1514 168h3V170h-3zM1518 158h3V170h-3z"/><path fill="#e60000" d="M-1 75h3V100h-3zM31 51h3V56h-3zM43 42.2h3V62h-3zM47 61h3V69h-3zM59 58h3V75.6h-3zM76 25h3V56h-3zM81 53.4h3V58.5h-3zM85 56h3V61h-3zM89 53.4h3V62.8h-3zM97 50h3V66.2h-3zM113 40h3V56.8h-3zM137 44.8h3V48.2h-3zM141 48.2h3V62.8h-3zM146 62.8h3V96h-3zM150 97.9h3V110.7h-3zM158 107h3V118h-3zM162 116h3V142h-3zM170 129h3V150h-3zM203 97h3V103h-3zM211 98h3V103h-3zM231 80h3V87h-3zM235 82h3V93h-3zM239 88h3V97h-3zM248 85h3V95h-3zM252 92h3V163h-3zM256 163h3V181h-3zM272 138h3V195h-3zM276 185h3V225h-3zM281 222h3V231h-3zM285 230h3V242h-3zM305 160h3V177h-3zM317 172h3V188h-3zM321 185h3V207h-3zM325 204h3V216h-3zM333 204h3V207h-3zM337 205h3V208h-3zM354 201h3V206h-3zM362 198h3V203h-3zM371 196h3V208h-3zM379 208h3V221h-3zM391 210h3V212h-3zM411 173h3V174h-3zM431 158h3V220h-3zM452 185h3V200h-3zM455 200h3V210h-3zM460 208h3V222h-3zM477 203h3V213h-3zM481 213h3V260h-3zM485 260h3V315h-3zM489 313h3V319h-3zM509 292h3V295h-3zM517 277h3V279h-3zM539 197h3V225h-3zM546 219h3V222h-3zM558 192h3V196h-3zM562 198h3V230h-3zM566 230h3V235h-3zM571 235h3V246h-3zM579 243h3V251h-3zM583 250h3V317h-3zM587 317h3V340h-3zM599 326h3V335h-3zM603 335h3V395h-3zM619 358h3V367h-3zM636 364h3V414h-3zM640 413h3V427h-3zM644 427h3V429h-3zM648 428h3V431h-3zM652 431h3V474h-3zM656 472h3V477h-3zM660 477h3V497h-3zM677 412h3V428h-3zM681 427h3V428h-3zM685 427h3V451h-3zM701 427h3V432h-3zM709 410h3V418h-3zM717 393h3V413h-3zM726 404h3V415h-3zM730 415h3V422h-3zM734 420h3V430h-3zM746 410h3V412h-3zM750 411h3V412h-3zM754 411h3V453h-3zM767 435h3V457h-3zM787 423h3V431h-3zM799 341h3V344h-3zM803 341h3V369h-3zM807 369h3V386h-3zM811 386h3V409h-3zM828 340h3V344h-3zM832 342h3V354h-3zM840 327h3V354h-3zM848 348h3V356h-3zM856 355h3V363h-3zM873 325h3V329h-3zM881 301h3V307h-3zM893 240h3V241h-3zM901 241h3V257h-3zM905 256h3V259h-3zM910 258h3V278h-3zM918 230h3V247h-3zM926 235h3V262h-3zM930 262h3V269h-3zM934 268h3V272h-3zM938 270h3V279h-3zM950 267h3V270h-3zM963 262h3V285h-3zM979 259h3V264h-3zM987 260h3V278h-3zM995 250h3V256h-3zM999 255h3V282h-3zM1003 282h3V286h-3zM1012 273h3V288h-3zM1020 279h3V295h-3zM1028 297h3V373h-3zM1032 373h3V391h-3zM1048 288h3V302h-3zM1057 274h3V287h-3zM1065 285h3V294h-3zM1077 240h3V245h-3zM1081 245h3V247h-3zM1093 206h3V216h-3zM1097 215h3V224h-3zM1101 224h3V227h-3zM1106 227h3V232h-3zM1110 232h3V246h-3zM1114 246h3V281h-3zM1118 281h3V287h-3zM1126 271h3V273h-3zM1130 272h3V279h-3zM1142 260h3V280h-3zM1146 280h3V287h-3zM1150 285h3V292h-3zM1155 297h3V304h-3zM1167 293h3V295h-3zM1171 294h3V303h-3zM1175 303h3V320h-3zM1179 318h3V325h-3zM1183 323h3V330h-3zM1187 329h3V338h-3zM1208 262h3V264h-3zM1216 257h3V258.5h-3zM1220 258h3V273h-3zM1240 222h3V244h-3zM1257 185h3V189h-3zM1273 148h3V164h-3zM1277 163h3V170h-3zM1281 168h3V172h-3zM1306 141h3V146h-3zM1310 145h3V158h-3zM1318 150h3V160h-3zM1326 148h3V161h-3zM1334 143h3V150h-3zM1342 147h3V171h-3zM1351 167h3V171h-3zM1355 169h3V171h-3zM1379 112h3V113h-3zM1387 112h3V113h-3zM1391 112h3V130h-3zM1396 129h3V134h-3zM1400 133h3V138h-3zM1404 138.5h3V139.5h-3zM1416 104h3V129h-3zM1420 129h3V133h-3zM1424 132h3V146h-3zM1432 136h3V148h-3zM1441 136h3V151h-3zM1461 110h3V127h-3zM1465 126h3V128h-3zM1477 95h3V102h-3zM1481 102h3V105h-3zM1485 104h3V122h-3zM1498 110h3V141h-3zM1502 139h3V155h-3zM1506 154h3V162h-3zM1510 160h3V171h-3z"/>
<path d="M1 158.5H1562" stroke="#22864f" stroke-width="1" stroke-dasharray="1 2" fill="none"/>
<text x="68.7" y="496.8" font-size="12" fill="#787b86" text-anchor="end">0 (1.20995)</text>
<text x="68.7" y="383.8" font-size="12" fill="#f23645" text-anchor="end">0.236 (1.22642)</text>
<text x="68.7" y="313.8" font-size="12" fill="#ff9800" text-anchor="end">0.382 (1.23660)</text>
<text x="68.7" y="257.8" font-size="12" fill="#4caf50" text-anchor="end">0.5 (1.24483)</text>
<text x="68.7" y="200.8" font-size="12" fill="#089981" text-anchor="end">0.618 (1.25307)</text>
<text x="68.7" y="120.8" font-size="12" fill="#00bcd4" text-anchor="end">0.786 (1.26479)</text>
<text x="68.7" y="17.8" font-size="12" fill="#787b86" text-anchor="end">1 (1.27971)</text>
</g>
<path d="M0 600.94 L4.11 600.26 L7.53 594.1 L11.98 582.12 L15.4 580.41 L19.85 567.75 L23.95 567.41 L28.06 566.04 L32.16 576.99 L35.93 569.46 L41.06 565.01 L45.17 594.1 L48.93 602.65 L53.04 599.23 L57.14 593.07 L60.91 616.34 L65.01 589.65 L68.43 587.94 L72.54 571.17 L76.65 604.36 L80.75 608.81 L84.86 610.18 L89.65 614.63 L93.41 601.97 L97.86 618.05 L101.63 596.49 L106.07 592.39 L110.18 597.52 L113.94 626.6 L117.37 624.89 L121.47 619.76 L125.92 618.05 L130.03 603.34 L134.13 602.99 L138.58 606.07 L142.69 624.89 L146.45 656.72 L150.56 665.95 L154.66 660.14 L158.43 667.66 L162.53 682.04 L166.64 666.98 L170.4 678.61 L174.51 676.9 L178.61 675.19 L183.06 667.66 L187.51 661.85 L191.62 660.82 L195.72 647.13 L200.17 612.23 L204.28 617.02 L208.04 612.92 L212.15 618.73 L216.25 607.1 L220.02 606.07 L224.12 598.55 L228.57 598.2 L231.99 598.55 L236.78 611.21 L240.89 618.05 L245 603.34 L249.1 619.08 L252.52 677.93 L256.63 687.17 L260.74 667.66 L264.5 650.56 L268.95 638.58 L272.71 669.38 L276.48 683.06 L280.58 684.77 L285.71 689.22 L289.48 673.82 L293.58 671.09 L297.69 650.56 L301.8 621.47 L305.56 630.71 L309.67 632.42 L314.11 628.31 L318.22 638.58 L321.98 647.82 L325.75 653.64 L330.2 643.03 L334.3 644.74 L338.41 645.42 L342.51 644.74 L346.62 643.71 L350.73 638.58 L354.83 643.03 L358.94 636.87 L363.05 633.45 L366.81 631.05 L370.92 642 L375.02 642.69 L379.81 656.37 L383.92 641.32 L387.68 638.92 L391.79 640.29 L395.89 635.84 L400 612.92 L404.11 594.1 L408.21 590.68 L412.32 592.39 L416.42 595.12 L420.53 593.41 L424.29 593.07 L429.08 577.67 L432.85 652.27 L436.95 628.31 L441.06 624.89 L444.82 621.47 L448.93 615.31 L453.04 631.05 L457.14 639.26 L461.25 649.87 L465.36 648.16 L469.46 639.61 L473.22 626.6 L477.67 636.87 L481.78 671.09 L485.89 696.75 L489.99 697.78 L494.1 688.2 L498.2 677.93 L502.31 672.8 L506.42 667.66 L510.18 668.35 L514.29 650.56 L518.39 650.9 L522.16 652.27 L526.26 643.71 L531.05 628.31 L534.82 578.7 L538.92 600.26 L542 598.55 L546.79 600.26 L550.9 589.65 L555 581.09 L559.11 589.65 L563.21 616.34 L567.32 620.79 L571.77 627.63 L575.88 626.26 L579.98 631.74 L583.75 671.09 L587.85 680.33 L591.96 671.77 L596.06 671.09 L600.17 675.53 L603.93 697.43 L608.04 679.64 L612.15 670.4 L616.25 666.98 L620.7 669.72 L624.81 668.69 L628.91 671.77 L633.02 663.56 L636.78 685.8 L640.89 690.93 L644.99 691.62 L649.1 693.33 L653.21 706.33 L657.31 707.7 L661.08 712.83 L665.18 683.06 L669.63 672.8 L673.74 637.55 L677.84 645.08 L681.95 645.42 L686.05 656.37 L690.16 644.4 L694.27 644.05 L698.37 638.24 L702.14 640.98 L706.24 624.89 L710.01 628.66 L714.11 611.89 L718.9 625.24 L723.01 619.76 L727.12 627.29 L731.22 631.39 L735.33 635.5 L739.43 620.79 L743.88 620.44 L747.65 620.44 L751.07 621.47 L754.83 653.98 L758.94 639.26 L763.04 638.58 L767.83 652.61 L771.94 651.24 L776.05 647.13 L780.15 626.6 L783.92 619.76 L787.68 624.89 L791.79 581.44 L795.89 566.72 L800 569.46 L803.76 591.36 L807.87 606.07 L812.32 621.47 L816.42 597.52 L820.53 587.25 L824.63 583.15 L828.74 586.23 L832.85 594.1 L836.95 581.09 L841.06 600.26 L845.17 598.2 L849.27 603.68 L853.38 603.68 L857.48 609.15 L861.59 607.78 L865.7 599.91 L869.8 583.83 L873.57 587.25 L877.67 571.86 L881.78 575.96 L885.88 565.01 L889.99 546.54 L894.44 546.54 L898.2 546.19 L901.97 566.72 L906.07 569.12 L910.86 586.23 L914.97 563.64 L919.07 577.67 L923.18 572.54 L927.29 594.1 L931.39 600.26 L935.5 602.65 L939.26 608.47 L943.37 605.05 L947.47 599.91 L950.9 601.63 L955 598.2 L959.79 597.86 L963.9 618.05 L968.01 609.5 L972.11 602.65 L976.22 596.83 L980.32 599.57 L984.43 599.23 L988.19 618.73 L992.3 594.1 L996.06 599.91 L999.83 625.24 L1003.93 628.31 L1008.38 617.02 L1012.49 632.42 L1016.59 622.16 L1020.7 636.18 L1024.81 636.87 L1028.91 679.64 L1033.02 687.51 L1036.78 674.51 L1040.89 652.27 L1044.65 611.21 L1048.76 618.05 L1052.86 604.7 L1057.65 611.89 L1061.76 611.55 L1065.87 616.34 L1069.97 590.68 L1074.08 588.62 L1078.18 592.39 L1081.61 592.39 L1084 587.25 L1089.82 572.88 L1093.92 580.41 L1098.03 588.28 L1102.14 590.68 L1106.93 595.12 L1111.03 607.78 L1114.8 632.76 L1118.9 636.87 L1123.01 625.24 L1127.11 625.92 L1131.22 629 L1135.33 620.44 L1139.09 613.94 L1143.2 631.05 L1147.3 636.87 L1151.41 639.61 L1155.86 649.19 L1159.96 643.03 L1164.07 637.55 L1168.17 638.92 L1171.94 646.11 L1175.7 659.11 L1179.81 663.22 L1183.91 666.64 L1188.02 673.14 L1192.13 643.71 L1195.89 618.05 L1200.34 599.23 L1204.44 592.39 L1208.21 593.07 L1212.66 589.65 L1216.76 590.68 L1220.87 608.81 L1224.63 601.97 L1228.74 598.2 L1232.85 582.81 L1236.95 566.38 L1241.06 594.1 L1244.82 573.22 L1249.27 568.43 L1253.38 558.51 L1257.48 563.3 L1261.59 561.59 L1265.35 555.43 L1269.8 543.8 L1273.91 562.28 L1278.01 569.12 L1281.78 570.49 L1285.88 567.75 L1289.99 565.7 L1294.09 562.62 L1298.88 560.56 L1302.99 552.01 L1307.1 558.85 L1310.86 576.65 L1314.97 571.17 L1319.07 584.17 L1322.84 576.65 L1326.94 592.39 L1331.05 578.36 L1335.15 584.86 L1339.26 584.17 L1343.02 612.23 L1347.13 609.5 L1351.24 613.6 L1355.34 614.29 L1359.45 607.78 L1363.56 604.36 L1367.66 594.1 L1371.77 574.59 L1375.87 559.88 L1379.98 559.54 L1384.09 559.2 L1388.19 560.56 L1391.96 588.28 L1396.06 594.1 L1400.85 601.97 L1404.96 602.99 L1409.06 586.23 L1412.83 568.43 L1416.59 602.65 L1420.7 607.78 L1424.8 622.16 L1428.91 613.6 L1433.02 624.89 L1437.12 613.6 L1441.91 627.63 L1446.02 600.94 L1449.78 600.6 L1453.89 591.02 L1457.99 589.65 L1462.1 608.47 L1466.21 609.5 L1469.97 609.15 L1474.08 580.41 L1478.18 588.96 L1481.95 593.07 L1486.05 612.23 L1490.16 606.42 L1494.95 601.28 L1499.06 634.13 L1503.16 646.11 L1507.27 652.61 L1511.03 658.08 L1515.14 654.66 L1518.9 643.03" fill="none" stroke="#7e57c2" stroke-width="1.2" stroke-linejoin="round" stroke-linecap="round" />
<path d="M0 522.5H1622" stroke="#e0e3eb" stroke-width="1" fill="none"/>
<rect x="0" y="5" width="541" height="23.5" fill="#fff" fill-opacity="0.5"/>
<rect x="0" y="28.5" width="145" height="48.5" fill="#fff" fill-opacity="0.5"/>
<rect x="0" y="77" width="152" height="47.5" fill="#fff" fill-opacity="0.5"/>
<text x="7" y="23.2" font-size="14.5" fill="#30333d" textLength="131" lengthAdjust="spacingAndGlyphs">GBP/USD Spot · 4h</text>
<circle cx="162" cy="17" r="8.6" fill="#089981" fill-opacity="0.2"/><circle cx="162" cy="17" r="4" fill="#089981"/>
<text x="187" y="22.3" font-size="13" textLength="54.5" lengthAdjust="spacingAndGlyphs"><tspan fill="#3f424c">O</tspan><tspan fill="#22864f">1.25883</tspan></text>
<text x="248.5" y="22.3" font-size="13" textLength="53.2" lengthAdjust="spacingAndGlyphs"><tspan fill="#3f424c">H</tspan><tspan fill="#22864f">1.26071</tspan></text>
<text x="310" y="22.3" font-size="13" textLength="52" lengthAdjust="spacingAndGlyphs"><tspan fill="#3f424c">L</tspan><tspan fill="#22864f">1.25856</tspan></text>
<text x="368.5" y="22.3" font-size="13" textLength="53.5" lengthAdjust="spacingAndGlyphs"><tspan fill="#3f424c">C</tspan><tspan fill="#22864f">1.26021</tspan></text>
<text x="430.5" y="22.3" font-size="13" fill="#22864f" textLength="104" lengthAdjust="spacingAndGlyphs">+0.00138 (+0.11%)</text>
<text x="7.2" y="46.3" font-size="12" fill="#33363f" textLength="78.3" lengthAdjust="spacingAndGlyphs">MA 20 close 0</text>
<text x="95.5" y="46.3" font-size="12" fill="#f23645" textLength="43.3" lengthAdjust="spacingAndGlyphs">1.26436</text>
<text x="7.2" y="70.3" font-size="12" fill="#33363f" textLength="78.3" lengthAdjust="spacingAndGlyphs">MA 50 close 0</text>
<text x="95.5" y="70.3" font-size="12" fill="#fbc02d" textLength="43.3" lengthAdjust="spacingAndGlyphs">1.26333</text>
<text x="7.2" y="94.3" font-size="12" fill="#33363f" textLength="85.3" lengthAdjust="spacingAndGlyphs">MA 100 close 0</text>
<text x="102" y="94.3" font-size="12" fill="#4caf50" textLength="43" lengthAdjust="spacingAndGlyphs">1.25574</text>
<text x="7.2" y="118.3" font-size="12" fill="#33363f" textLength="85.3" lengthAdjust="spacingAndGlyphs">MA 200 close 0</text>
<text x="102" y="118.3" font-size="12" fill="#2962ff" textLength="43" lengthAdjust="spacingAndGlyphs">1.24615</text>
<rect x="7.6" y="127.7" width="27.8" height="19.6" rx="3.5" fill="#fff" stroke="#cfd1db" stroke-width="1.2"/>
<path d="M17.5 139.5L21.5 135.5L25.5 139.5" stroke="#131722" stroke-width="1.3" fill="none"/>
<text x="7" y="544" font-size="12" fill="#2a2e39" textLength="34.7" lengthAdjust="spacingAndGlyphs">RSI 14</text>
<text x="50.3" y="544" font-size="12" fill="#7e57c2" textLength="31" lengthAdjust="spacingAndGlyphs">42.15</text>
<circle cx="26.6" cy="701.8" r="16.2" fill="#fff" stroke="#dfe2ea" stroke-width="1.3"/>
<path d="M15.8 697.2H25V707.6H20.7V700.8H15.8z M32 697.2H37.5L33.3 707.6H27.9z" fill="#131722"/><circle cx="27.9" cy="698.9" r="1.55" fill="#131722"/>
<rect x="1562" y="0" width="64" height="760" fill="#fff"/>
<path d="M1562 522.5H1622" stroke="#e0e3eb" stroke-width="1" fill="none"/>
<rect x="0" y="0" width="1622" height="1" fill="#e0e3eb"/>
<text x="1571" y="26.97" font-size="12.4" fill="#2a2e39" textLength="41.2" lengthAdjust="spacingAndGlyphs">1.28000</text>
<text x="1571" y="61.28" font-size="12.4" fill="#2a2e39" textLength="41.2" lengthAdjust="spacingAndGlyphs">1.27500</text>
<text x="1571" y="95.58" font-size="12.4" fill="#2a2e39" textLength="41.2" lengthAdjust="spacingAndGlyphs">1.27000</text>
<text x="1571" y="129.89" font-size="12.4" fill="#2a2e39" textLength="41.2" lengthAdjust="spacingAndGlyphs">1.26500</text>
<text x="1571" y="164.2" font-size="12.4" fill="#2a2e39" textLength="41.2" lengthAdjust="spacingAndGlyphs">1.26000</text>
<text x="1571" y="198.5" font-size="12.4" fill="#2a2e39" textLength="41.2" lengthAdjust="spacingAndGlyphs">1.25500</text>
<text x="1571" y="232.81" font-size="12.4" fill="#2a2e39" textLength="41.2" lengthAdjust="spacingAndGlyphs">1.25000</text>
<text x="1571" y="267.12" font-size="12.4" fill="#2a2e39" textLength="41.2" lengthAdjust="spacingAndGlyphs">1.24500</text>
<text x="1571" y="301.43" font-size="12.4" fill="#2a2e39" textLength="41.2" lengthAdjust="spacingAndGlyphs">1.24000</text>
<text x="1571" y="335.73" font-size="12.4" fill="#2a2e39" textLength="41.2" lengthAdjust="spacingAndGlyphs">1.23500</text>
<text x="1571" y="370.04" font-size="12.4" fill="#2a2e39" textLength="41.2" lengthAdjust="spacingAndGlyphs">1.23000</text>
<text x="1571" y="404.35" font-size="12.4" fill="#2a2e39" textLength="41.2" lengthAdjust="spacingAndGlyphs">1.22500</text>
<text x="1571" y="438.65" font-size="12.4" fill="#2a2e39" textLength="41.2" lengthAdjust="spacingAndGlyphs">1.22000</text>
<text x="1571" y="472.96" font-size="12.4" fill="#2a2e39" textLength="41.2" lengthAdjust="spacingAndGlyphs">1.21500</text>
<text x="1571" y="507.27" font-size="12.4" fill="#2a2e39" textLength="41.2" lengthAdjust="spacingAndGlyphs">1.21000</text>
<text x="1570.3" y="535.15" font-size="12.4" fill="#2a2e39" textLength="29.2" lengthAdjust="spacingAndGlyphs">80.00</text>
<text x="1570.3" y="594.35" font-size="12.4" fill="#2a2e39" textLength="29.2" lengthAdjust="spacingAndGlyphs">60.00</text>
<text x="1570.3" y="653.85" font-size="12.4" fill="#2a2e39" textLength="29.2" lengthAdjust="spacingAndGlyphs">40.00</text>
<text x="1570.3" y="713.35" font-size="12.4" fill="#2a2e39" textLength="29.2" lengthAdjust="spacingAndGlyphs">20.00</text>
<rect x="1562" y="76.2" width="56" height="16.2" rx="2" fill="#262a38"/>
<text x="1571" y="88.6" font-size="12" font-weight="bold" fill="#fff" textLength="41" lengthAdjust="spacingAndGlyphs">1.27105</text>
<rect x="1562" y="112.7" width="56" height="16.2" rx="2" fill="#f23645"/>
<text x="1571" y="125.1" font-size="12" font-weight="bold" fill="#fff" textLength="41" lengthAdjust="spacingAndGlyphs">1.26436</text>
<rect x="1562" y="129.4" width="56" height="16.2" rx="2" fill="#fbc02d"/>
<text x="1571" y="141.8" font-size="12" font-weight="bold" fill="#131722" textLength="41" lengthAdjust="spacingAndGlyphs">1.26333</text>
<rect x="1562" y="150.9" width="56" height="16.2" rx="2" fill="#22864f"/>
<text x="1571" y="163.3" font-size="12" font-weight="bold" fill="#fff" textLength="41" lengthAdjust="spacingAndGlyphs">1.26021</text>
<rect x="1562" y="167.9" width="56" height="16.2" rx="2" fill="#262a38"/>
<text x="1571" y="180.3" font-size="12" font-weight="bold" fill="#fff" textLength="41" lengthAdjust="spacingAndGlyphs">1.25997</text>
<rect x="1562" y="184.6" width="56" height="16.2" rx="2" fill="#4caf50"/>
<text x="1571" y="197" font-size="12" font-weight="bold" fill="#fff" textLength="41" lengthAdjust="spacingAndGlyphs">1.25574</text>
<rect x="1562" y="247.4" width="56" height="16.2" rx="2" fill="#2962ff"/>
<text x="1571" y="259.8" font-size="12" font-weight="bold" fill="#fff" textLength="41" lengthAdjust="spacingAndGlyphs">1.24615</text>
<rect x="1562" y="454.3" width="56" height="16.2" rx="2" fill="#262a38"/>
<text x="1571" y="466.7" font-size="12" font-weight="bold" fill="#fff" textLength="41" lengthAdjust="spacingAndGlyphs">1.21597</text>
<rect x="1562" y="635.2" width="43" height="16.4" rx="2" fill="#7e57c2"/>
<text x="1569.5" y="647.8" font-size="12" font-weight="bold" fill="#fff" textLength="29" lengthAdjust="spacingAndGlyphs">42.15</text>
<rect x="0" y="731" width="1626" height="29" fill="#fff"/>
<text x="8.4" y="749.4" font-size="12.4" fill="#2a2e39" text-anchor="middle">5</text>
<text x="110.4" y="749.4" font-size="12.4" fill="#2a2e39" text-anchor="middle">11</text>
<text x="212.4" y="749.4" font-size="12.4" fill="#2a2e39" text-anchor="middle">17</text>
<text x="310.4" y="749.4" font-size="12.4" fill="#2a2e39" text-anchor="middle">22</text>
<text x="469.4" y="749.4" font-size="12.4" fill="#2a2e39" text-anchor="middle" font-weight="bold" textLength="27" lengthAdjust="spacingAndGlyphs">2025</text>
<text x="551.4" y="749.4" font-size="12.4" fill="#2a2e39" text-anchor="middle">7</text>
<text x="649.4" y="749.4" font-size="12.4" fill="#2a2e39" text-anchor="middle">12</text>
<text x="751.4" y="749.4" font-size="12.4" fill="#2a2e39" text-anchor="middle">17</text>
<text x="853.4" y="749.4" font-size="12.4" fill="#2a2e39" text-anchor="middle">23</text>
<text x="943.4" y="749.4" font-size="12.4" fill="#2a2e39" text-anchor="middle" textLength="29.2" lengthAdjust="spacingAndGlyphs">12:00</text>
<text x="1029.4" y="749.4" font-size="12.4" fill="#2a2e39" text-anchor="middle" textLength="19.5" lengthAdjust="spacingAndGlyphs">Feb</text>
<text x="1131.4" y="749.4" font-size="12.4" fill="#2a2e39" text-anchor="middle">7</text>
<text x="1233.4" y="749.4" font-size="12.4" fill="#2a2e39" text-anchor="middle">13</text>
<text x="1335.4" y="749.4" font-size="12.4" fill="#2a2e39" text-anchor="middle">19</text>
<text x="1437.4" y="749.4" font-size="12.4" fill="#2a2e39" text-anchor="middle">25</text>
<text x="1535.4" y="749.4" font-size="12.4" fill="#2a2e39" text-anchor="middle" textLength="18.7" lengthAdjust="spacingAndGlyphs">Mar</text>
<rect x="0" y="758.5" width="1622" height="1.5" fill="#e0e3eb"/>
<polygon points="1600.3,746.1 1596.65,752.42 1589.35,752.42 1585.7,746.1 1589.35,739.78 1596.65,739.78" fill="none" stroke="#131722" stroke-width="1.3" stroke-linejoin="round"/>
<circle cx="1593" cy="746.1" r="2.2" fill="none" stroke="#131722" stroke-width="1.3"/>
</svg></body></html>
